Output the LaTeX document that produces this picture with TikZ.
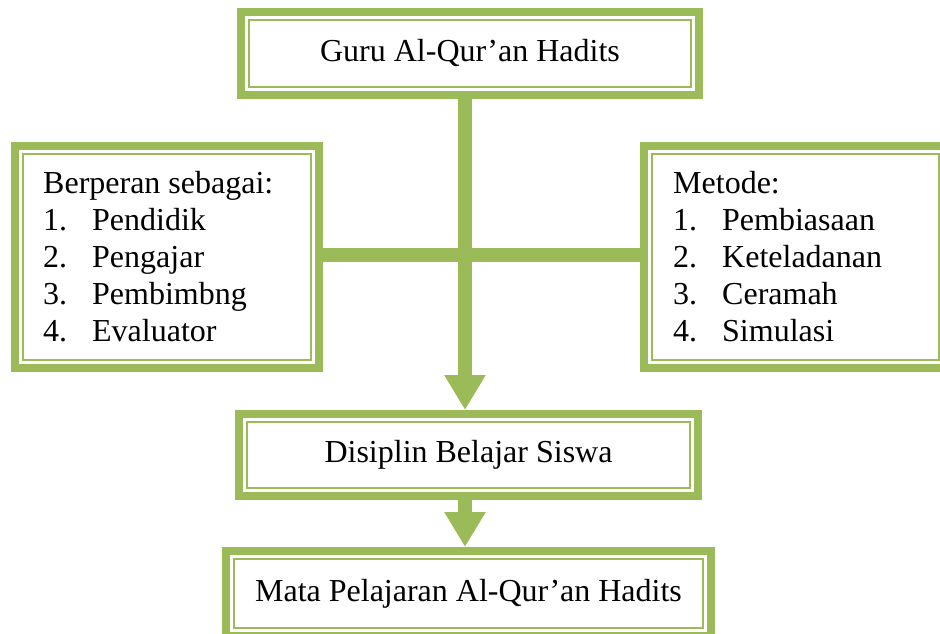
\documentclass[tikz,border=0pt]{standalone}
\usepackage{fontspec}
\setmainfont{Liberation Serif}
\usetikzlibrary{arrows.meta,calc}
\definecolor{ogreen}{HTML}{9BBB59}
\tikzset{
  gbox/.style={draw=ogreen, line width=8pt, fill=white, outer sep=0pt, inner sep=0pt,
    font=\fontsize{32}{37}\selectfont, text height=22pt, text depth=7pt,
    path picture={\draw[ogreen, line width=2pt]
      ($(path picture bounding box.north west)+(8pt,-8pt)$) rectangle
      ($(path picture bounding box.south east)+(-8pt,8pt)$);}},
  conn/.style={draw=ogreen, line width=14pt},
  arr/.style={conn, -{Triangle[length=35pt,width=39pt]}},
  listtext/.style={anchor=base west, inner sep=0pt, font=\fontsize{32}{37}\selectfont}
}
\newcommand{\itm}[2]{\makebox[49pt][l]{#1}#2}
\begin{document}
\begin{tikzpicture}[x=1pt,y=-1pt]
\useasboundingbox (0,0) rectangle (940,633);
\clip (0,0) rectangle (940,633);
% connectors first (under boxes)
\coordinate (stemtop) at (465,99);
\coordinate (stemA) at (465,410);
\coordinate (stemB) at (465,500);
\coordinate (stemC) at (465,547);
\coordinate (barL) at (323,255);
\coordinate (barR) at (640,255);
\draw[conn] (barL) -- (barR);
\draw[arr] (stemtop) -- (stemA);
\draw[arr] (stemB) -- (stemC);
% boxes
\node[gbox, minimum width=458pt, minimum height=83pt] (guru) at (470,53.5) {Guru Al-Qur’an Hadits};
\node[gbox, minimum width=304pt, minimum height=222pt] (peran) at (167,257) {};
\node[gbox, minimum width=303pt, minimum height=222pt] (metode) at (795.5,257) {};
\node[gbox, minimum width=459pt, minimum height=82pt] (disiplin) at (468.5,455) {Disiplin Belajar Siswa};
\node[gbox, minimum width=485pt, minimum height=85pt] (mapel) at (468.5,593.5) {Mata Pelajaran Al-Qur’an Hadits};
% list texts
\node[listtext] (perantxt) at (43,193) {\begin{tabular}[t]{@{}l@{}}
Berperan sebagai:\\
\itm{1.}{Pendidik}\\
\itm{2.}{Pengajar}\\
\itm{3.}{Pembimbng}\\
\itm{4.}{Evaluator}
\end{tabular}};
\node[listtext] (metodetxt) at (673,193) {\begin{tabular}[t]{@{}l@{}}
Metode:\\
\itm{1.}{Pembiasaan}\\
\itm{2.}{Keteladanan}\\
\itm{3.}{Ceramah}\\
\itm{4.}{Simulasi}
\end{tabular}};
\end{tikzpicture}
\end{document}
